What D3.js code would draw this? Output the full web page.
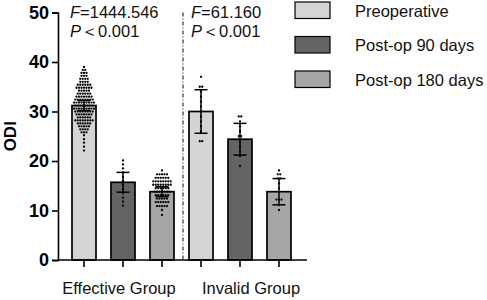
<!DOCTYPE html>
<html><head><meta charset="utf-8">
<script src="https://cdn.jsdelivr.net/npm/d3@7"></script>
<style>
body{margin:0;background:#fff;}
text{font-family:"Liberation Sans",Arial,sans-serif;}
</style></head>
<body><svg id="c" width="487" height="300"></svg>
<script>
const groups = ["Effective Group", "Invalid Group"];
const series = ["Preoperative", "Post-op 90 days", "Post-op 180 days"];
const colors = ["#d4d4d4", "#646464", "#a6a6a6"];
const yTicks = [0, 10, 20, 30, 40, 50];
const stats = ["F=1444.546|P<0.001", "F=61.160|P<0.001"];
// means and SD for each group, per series
const meansEffective = [31.2, 15.7, 13.8];
const sdEffective = [1.0, 2.0, 1.0];
const meansInvalid = [30.0, 24.4, 13.8];
const sdInvalid = [4.4, 3.2, 2.65];
// individual dots: [value, count of dots at that value]
const dotsEffPre = [[39,1],[38.4,2],[37.8,3],[37.2,3],[36.6,4],[36,4],[35.4,6],[34.8,7],[34.2,5],[33.6,6],[33,7],[32.4,8],[31.8,9],[31.2,8],[30.6,9],[30,8],[29.4,7],[28.8,6],[28.2,8],[27.6,6],[27,5],[26.4,4],[25.8,3],[25.2,1],[24.4,1],[23.7,1],[22.9,1],[22.1,1]];
const dotsEff90 = [[20.1,1],[19.3,1],[18.5,1],[17.7,1],[16.8,1],[16,1],[15.2,1],[14.3,1],[13.5,1],[12.6,1],[11.8,1],[11,1]];
const dotsEff180 = [[18.1,1],[17.3,5],[16.6,6],[15.9,8],[15.2,8],[14.5,6],[13.8,7],[13.1,6],[12.4,5],[11.7,6],[10.9,5],[10.1,1],[9.1,1]];
const dotsInvPre = [[37,1],[35,2],[34,1],[33,1],[32,1],[31,1],[30,1],[29,1],[28,1],[27,1],[26,1],[24,2]];
const dotsInv90 = [[29,2],[28,1],[27,1],[26,1],[25,2],[24,1],[23,1],[22,1],[21,1],[19,1]];
const dotsInv180 = [[18.1,1],[17.3,2],[16.5,2],[15.5,1],[14.5,1],[12.2,3],[11.1,1],[10.1,1]];

const means = {"Effective Group": meansEffective, "Invalid Group": meansInvalid};
const sds = {"Effective Group": sdEffective, "Invalid Group": sdInvalid};
const dots = {"Effective Group": [dotsEffPre, dotsEff90, dotsEff180], "Invalid Group": [dotsInvPre, dotsInv90, dotsInv180]};

const svg = d3.select("#c");
const axisLeft = 58, axisRight = 307;
const x0 = d3.scaleBand().domain(groups).range([64.5, 298.5]).paddingInner(0);
const x1 = d3.scaleBand().domain(series).range([0, x0.bandwidth()]).paddingInner(15/39).paddingOuter(7.5/39);
const y = d3.scaleLinear().domain([0, 50]).range([260, 12.5]);

// Bars, error bars, dots
groups.forEach(g => {
  series.forEach((s, i) => {
    const bx = x0(g) + x1(s), bw = x1.bandwidth(), cx = bx + bw / 2;
    const m = means[g][i], sd = sds[g][i];
    svg.append("rect").attr("x", bx).attr("y", y(m)).attr("width", bw).attr("height", y(0) - y(m))
      .attr("fill", colors[i]).attr("stroke", "#000").attr("stroke-width", 1.7);
    const eb = svg.append("g").attr("stroke", "#000").attr("stroke-width", 1.5);
    eb.append("line").attr("x1", cx).attr("x2", cx).attr("y1", y(m + sd)).attr("y2", y(m - sd));
    eb.append("line").attr("x1", cx - 6.5).attr("x2", cx + 6.5).attr("y1", y(m + sd)).attr("y2", y(m + sd));
    eb.append("line").attr("x1", cx - 6.5).attr("x2", cx + 6.5).attr("y1", y(m - sd)).attr("y2", y(m - sd));
    dots[g][i].forEach(([v, k]) => {
      for (let j = 0; j < k; j++) {
        svg.append("circle").attr("cx", cx + (j - (k - 1) / 2) * 2.5).attr("cy", y(v)).attr("r", 1.15).attr("fill", "#000");
      }
    });
  });
});

// Y axis
const ya = svg.append("g").attr("transform", `translate(${axisLeft},0)`)
  .call(d3.axisLeft(y).tickValues(yTicks).tickSize(6).tickPadding(3));
ya.select(".domain").attr("stroke", "#000").attr("stroke-width", 1.6);
ya.selectAll(".tick line").attr("stroke", "#000").attr("stroke-width", 1.6);
ya.selectAll(".tick text").attr("font-family", "Liberation Sans, Arial, sans-serif").attr("font-size", 18).attr("font-weight", "bold").attr("fill", "#000");

svg.append("text").attr("transform", `translate(16,${y(25)}) rotate(-90)`).attr("text-anchor", "middle")
  .attr("font-size", 17).attr("font-weight", "bold").text("ODI");

// X axis line + ticks
svg.append("line").attr("x1", axisLeft).attr("x2", axisRight).attr("y1", y(0)).attr("y2", y(0)).attr("stroke", "#000").attr("stroke-width", 1.6);
groups.forEach(g => series.forEach(s => {
  const cx = x0(g) + x1(s) + x1.bandwidth() / 2;
  svg.append("line").attr("x1", cx).attr("x2", cx).attr("y1", y(0)).attr("y2", y(0) + 7).attr("stroke", "#000").attr("stroke-width", 1.6);
}));
const labelOffsets = [-4, 11];
groups.forEach((g, i) => {
  svg.append("text").attr("x", x0(g) + x0.bandwidth() / 2 + labelOffsets[i]).attr("y", 294)
    .attr("text-anchor", "middle").attr("font-size", 16.5).attr("fill", "#111").text(g);
});

// Divider
svg.append("line").attr("x1", x0(groups[1]) + 1.5).attr("x2", x0(groups[1]) + 1.5)
  .attr("y1", y(50)).attr("y2", y(0)).attr("stroke", "#333").attr("stroke-width", 1.2).attr("stroke-dasharray", "4,2,1,2");

// Stats text
const statX = [x0(groups[0]) + 5.5, x0(groups[1]) + 9.5];
stats.forEach((st, i) => {
  const [f, p] = st.split("|");
  const t1 = svg.append("text").attr("x", statX[i]).attr("y", 18).attr("font-size", 16.5).attr("fill", "#111");
  t1.append("tspan").attr("font-style", "italic").text("F");
  t1.append("tspan").text(f.slice(1));
  const t2 = svg.append("text").attr("x", statX[i]).attr("y", 37).attr("font-size", 16.5).attr("fill", "#111");
  t2.append("tspan").attr("font-style", "italic").text("P");
  t2.append("tspan").text("＜" + p.slice(2));
});

// Legend
series.forEach((s, i) => {
  const yy = 2 + i * 34.5;
  svg.append("rect").attr("x", 295).attr("y", yy).attr("width", 35).attr("height", 16.5)
    .attr("fill", colors[i]).attr("stroke", "#000").attr("stroke-width", 1.2);
  svg.append("text").attr("x", 355).attr("y", yy + 14.5).attr("font-size", 16.5).attr("fill", "#111").text(s);
});
</script></body></html>
